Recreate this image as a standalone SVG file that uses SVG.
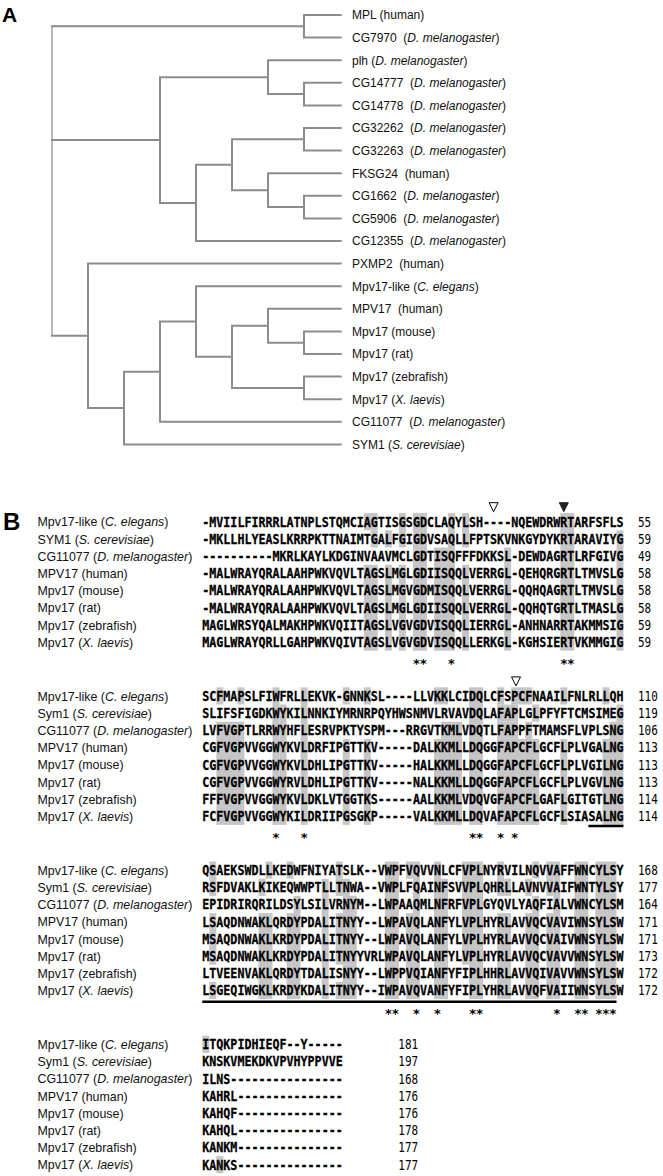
<svg xmlns="http://www.w3.org/2000/svg" width="663" height="1176" viewBox="0 0 663 1176">
<style>
.pl{font-family:"Liberation Sans",Arial,sans-serif;font-weight:bold;fill:#000}
.tl{font-family:"Liberation Sans",Arial,sans-serif;font-size:12px;fill:#111}
.lb{font-family:"Liberation Sans",Arial,sans-serif;font-size:12.4px;fill:#111}
.it{font-style:italic}
.sq{font-family:"DejaVu Sans Mono","Liberation Mono",monospace;font-size:11.66px;font-weight:bold;fill:#000;stroke:#000;stroke-width:0.25}
.nm{font-family:"DejaVu Sans Mono","Liberation Mono",monospace;font-size:11px;fill:#000}
.st{font-family:"DejaVu Sans Mono","Liberation Mono",monospace;font-size:13px;font-weight:bold;fill:#000}
.br{stroke:#8c8c8c;stroke-width:2;fill:none;stroke-linecap:square}
.sh rect{fill:#c6c6c6}
.ul{stroke:#000;stroke-width:2.5}
.to{fill:#fff;stroke:#000;stroke-width:1}
.tf{fill:#222;stroke:#222;stroke-width:1}
</style>
<defs>
<g id="labels">
<text x="37.5" y="526.4">Mpv17-like (<tspan class="it">C. elegans</tspan>)</text>
<text x="37.5" y="543.6">Sym1 (<tspan class="it">S. cerevisiae</tspan>)</text>
<text x="37.5" y="560.8">CG11077 (<tspan class="it">D. melanogaster</tspan>)</text>
<text x="37.5" y="578">MPV17 (human)</text>
<text x="37.5" y="595.2">Mpv17 (mouse)</text>
<text x="37.5" y="612.4">Mpv17 (rat)</text>
<text x="37.5" y="629.6">Mpv17 (zebrafish)</text>
<text x="37.5" y="646.8">Mpv17 (<tspan class="it">X. laevis</tspan>)</text>
</g>
</defs>
<rect width="663" height="1176" fill="#fff"/>
<g id="panel-A">
<text class="pl" x="2" y="21.5" font-size="21">A</text>
<g id="connectors">
<path d="M52 26.3 V335.8" stroke="#a8a8a8" stroke-width="1.6" fill="none"/>
<path class="br" d="M52 26.3 H304 M304 15 V37.6 M304 15 H340.7 M304 37.6 H340.7
M52 140 H160 M160 77.15 V202.9 M160 77.15 H268 M268 60.2 V94.1 M268 60.2 H340.7 M268 94.1 H304 M304 82.8 V105.4 M304 82.8 H340.7 M304 105.4 H340.7
M160 202.9 H196 M196 164.7 V241 M196 241 H340.7 M196 164.7 H232 M232 139.3 V190.15 M232 139.3 H304 M304 128 V150.6 M304 128 H340.7 M304 150.6 H340.7
M232 190.15 H268 M268 173.2 V207.1 M268 173.2 H340.7 M268 207.1 H304 M304 195.8 V218.4 M304 195.8 H340.7 M304 218.4 H340.7
M52 335.8 H88 M88 263.6 V408 M88 263.6 H340.7 M88 408 H124 M124 371.65 V444.4 M124 444.4 H340.7 M124 371.65 H160 M160 321.5 V421.8 M160 421.8 H340.7
M160 321.5 H196 M196 286.2 V356.8 M196 286.2 H340.7 M196 356.8 H232 M232 325.75 V387.9 M232 325.75 H268 M268 308.8 V342.7 M268 308.8 H340.7 M268 342.7 H304 M304 331.4 V354 M304 331.4 H340.7 M304 354 H340.7
M232 387.9 H304 M304 376.6 V399.2 M304 376.6 H340.7 M304 399.2 H340.7"/>
</g>
<g id="leaf-MPL"><text class="tl" x="352" y="19.3">MPL (human)</text></g>
<g id="leaf-CG7970"><text class="tl" x="352" y="41.9" xml:space="preserve">CG7970  (<tspan class="it">D. melanogaster</tspan>)</text></g>
<g id="leaf-plh"><text class="tl" x="352" y="64.5">plh (<tspan class="it">D. melanogaster</tspan>)</text></g>
<g id="leaf-CG14777"><text class="tl" x="352" y="87.1" xml:space="preserve">CG14777  (<tspan class="it">D. melanogaster</tspan>)</text></g>
<g id="leaf-CG14778"><text class="tl" x="352" y="109.7" xml:space="preserve">CG14778  (<tspan class="it">D. melanogaster</tspan>)</text></g>
<g id="leaf-CG32262"><text class="tl" x="352" y="132.3" xml:space="preserve">CG32262  (<tspan class="it">D. melanogaster</tspan>)</text></g>
<g id="leaf-CG32263"><text class="tl" x="352" y="154.9" xml:space="preserve">CG32263  (<tspan class="it">D. melanogaster</tspan>)</text></g>
<g id="leaf-FKSG24"><text class="tl" x="352" y="177.5" xml:space="preserve">FKSG24  (human)</text></g>
<g id="leaf-CG1662"><text class="tl" x="352" y="200.1" xml:space="preserve">CG1662  (<tspan class="it">D. melanogaster</tspan>)</text></g>
<g id="leaf-CG5906"><text class="tl" x="352" y="222.7" xml:space="preserve">CG5906  (<tspan class="it">D. melanogaster</tspan>)</text></g>
<g id="leaf-CG12355"><text class="tl" x="352" y="245.3" xml:space="preserve">CG12355  (<tspan class="it">D. melanogaster</tspan>)</text></g>
<g id="leaf-PXMP2"><text class="tl" x="352" y="267.9" xml:space="preserve">PXMP2  (human)</text></g>
<g id="leaf-Mpv17like"><text class="tl" x="352" y="290.5">Mpv17-like (<tspan class="it">C. elegans</tspan>)</text></g>
<g id="leaf-MPV17-human"><text class="tl" x="352" y="313.1" xml:space="preserve">MPV17  (human)</text></g>
<g id="leaf-Mpv17-mouse"><text class="tl" x="352" y="335.7">Mpv17 (mouse)</text></g>
<g id="leaf-Mpv17-rat"><text class="tl" x="352" y="358.3">Mpv17 (rat)</text></g>
<g id="leaf-Mpv17-zebrafish"><text class="tl" x="352" y="380.9">Mpv17 (zebrafish)</text></g>
<g id="leaf-Mpv17-xlaevis"><text class="tl" x="352" y="403.5">Mpv17 (<tspan class="it">X. laevis</tspan>)</text></g>
<g id="leaf-CG11077"><text class="tl" x="352" y="426.1" xml:space="preserve">CG11077  (<tspan class="it">D. melanogaster</tspan>)</text></g>
<g id="leaf-SYM1"><text class="tl" x="352" y="448.7">SYM1 (<tspan class="it">S. cerevisiae</tspan>)</text></g>
</g>
<g id="panel-B">
<text class="pl" x="3" y="530" font-size="24">B</text>
<g id="block1">
<g class="sh">
<rect x="363.76" y="513.1" width="14.04" height="17.2"/><rect x="370.78" y="530.3" width="7.02" height="17.2"/><rect x="363.76" y="564.7" width="14.04" height="86"/>
<rect x="384.82" y="530.3" width="7.02" height="17.2"/><rect x="384.82" y="564.7" width="7.02" height="86"/>
<rect x="398.86" y="513.1" width="7.02" height="34.4"/><rect x="398.86" y="564.7" width="7.02" height="86"/>
<rect x="412.9" y="513.1" width="14.04" height="137.6"/><rect x="433.96" y="547.5" width="14.04" height="103.2"/><rect x="448" y="513.1" width="7.02" height="137.6"/>
<rect x="462.04" y="513.1" width="7.02" height="34.4"/><rect x="462.04" y="564.7" width="7.02" height="86"/>
<rect x="504.16" y="547.5" width="7.02" height="103.2"/><rect x="560.32" y="513.1" width="14.04" height="137.6"/><rect x="616.48" y="530.3" width="7.02" height="120.4"/>
</g>
<g class="lb">
<text x="37.5" y="526.4">Mpv17-like (<tspan class="it">C. elegans</tspan>)</text>
<text x="37.5" y="543.6">SYM1 (<tspan class="it">S. cerevisiae</tspan>)</text>
<text x="37.5" y="560.8">CG11077 (<tspan class="it">D. melanogaster</tspan>)</text>
<text x="37.5" y="578">MPV17 (human)</text>
<text x="37.5" y="595.2">Mpv17 (mouse)</text>
<text x="37.5" y="612.4">Mpv17 (rat)</text>
<text x="37.5" y="629.6">Mpv17 (zebrafish)</text>
<text x="37.5" y="646.8">Mpv17 (<tspan class="it">X. laevis</tspan>)</text>
</g>
<g class="sq" transform="scale(1,1.2)">
<text x="202.3" y="438.917" textLength="421.2" lengthAdjust="spacingAndGlyphs">-MVIILFIRRRLATNPLSTQMCIAGTISGSGDCLAQYLSH----NQEWDRWRTARFSFLS</text>
<text x="202.3" y="453.25" textLength="421.2" lengthAdjust="spacingAndGlyphs">-MKLLHLYEASLKRRPKTTNAIMTGALFGIGDVSAQLLFPTSKVNKGYDYKRTARAVIYG</text>
<text x="202.3" y="467.583" textLength="421.2" lengthAdjust="spacingAndGlyphs">----------MKRLKAYLKDGINVAAVMCLGDTISQFFFDKKSL-DEWDAGRTLRFGIVG</text>
<text x="202.3" y="481.917" textLength="421.2" lengthAdjust="spacingAndGlyphs">-MALWRAYQRALAAHPWKVQVLTAGSLMGLGDIISQQLVERRGL-QEHQRGRTLTMVSLG</text>
<text x="202.3" y="496.25" textLength="421.2" lengthAdjust="spacingAndGlyphs">-MALWRAYQRALAAHPWKVQVLTAGSLMGVGDMISQQLVERRGL-QQHQAGRTLTMVSLG</text>
<text x="202.3" y="510.583" textLength="421.2" lengthAdjust="spacingAndGlyphs">-MALWRAYQRALAAHPWKVQVLTAGSLMGLGDIISQQLVERRGL-QQHQTGRTLTMASLG</text>
<text x="202.3" y="524.917" textLength="421.2" lengthAdjust="spacingAndGlyphs">MAGLWRSYQALMAKHPWKVQIITAGSLVGVGDVISQQLIERRGL-ANHNARRTAKMMSIG</text>
<text x="202.3" y="539.25" textLength="421.2" lengthAdjust="spacingAndGlyphs">MAGLWRAYQRLLGAHPWKVQIVTAGSLVGVGDVISQQLLERKGL-KGHSIERTVKMMGIG</text>
</g>
<g class="nm" transform="scale(1,1.2)">
<text x="638" y="438.917">55</text><text x="638" y="453.25">59</text><text x="638" y="467.583">49</text><text x="638" y="481.917">58</text>
<text x="638" y="496.25">58</text><text x="638" y="510.583">58</text><text x="638" y="524.917">59</text><text x="638" y="539.25">59</text>
</g>
<text class="st" x="416.41 423.43 451.51 563.83 570.85" y="667.9" text-anchor="middle">*****</text>
<path class="to" d="M489.1 502.7 H498.1 L493.6 511.7 Z"/>
<path class="tf" d="M559.3 502.7 H568.3 L563.8 511.7 Z"/>
</g>
<g id="block2" transform="translate(0,174.2)">
<g class="sh">
<rect x="216.34" y="513.1" width="7.02" height="17.2"/><rect x="237.4" y="513.1" width="7.02" height="17.2"/><rect x="216.34" y="547.5" width="28.08" height="103.2"/>
<rect x="272.5" y="513.1" width="7.02" height="137.6"/><rect x="279.52" y="530.3" width="7.02" height="120.4"/><rect x="300.58" y="513.1" width="7.02" height="137.6"/>
<rect x="342.7" y="513.1" width="7.02" height="17.2"/><rect x="342.7" y="564.7" width="7.02" height="86"/>
<rect x="363.76" y="513.1" width="7.02" height="17.2"/><rect x="363.76" y="564.7" width="7.02" height="86"/>
<rect x="433.96" y="513.1" width="14.04" height="17.2"/><rect x="440.98" y="547.5" width="21.06" height="17.2"/><rect x="433.96" y="564.7" width="28.08" height="86"/>
<rect x="469.06" y="513.1" width="14.04" height="137.6"/>
<rect x="497.14" y="513.1" width="7.02" height="17.2"/><rect x="511.18" y="513.1" width="21.06" height="17.2"/>
<rect x="497.14" y="530.3" width="21.06" height="17.2"/><rect x="532.24" y="530.3" width="7.02" height="17.2"/>
<rect x="497.14" y="547.5" width="21.06" height="17.2"/><rect x="525.22" y="547.5" width="7.02" height="17.2"/>
<rect x="497.14" y="564.7" width="42.12" height="86"/>
<rect x="560.32" y="513.1" width="7.02" height="17.2"/><rect x="560.32" y="564.7" width="7.02" height="86"/>
<rect x="602.44" y="513.1" width="7.02" height="17.2"/><rect x="616.48" y="530.3" width="7.02" height="17.2"/><rect x="609.46" y="547.5" width="14.04" height="17.2"/><rect x="602.44" y="564.7" width="21.06" height="86"/>
</g>
<use class="lb" href="#labels"/>
<g class="sq" transform="scale(1,1.2)">
<text x="202.3" y="438.917" textLength="421.2" lengthAdjust="spacingAndGlyphs">SCFMAPSLFIWFRLLEKVK-GNNKSL----LLVKKLCIDQLCFSPCFNAAILFNLRLLQH</text>
<text x="202.3" y="453.25" textLength="421.2" lengthAdjust="spacingAndGlyphs">SLIFSFIGDKWYKILNNKIYMRNRPQYHWSNMVLRVAVDQLAFAPLGLPFYFTCMSIMEG</text>
<text x="202.3" y="467.583" textLength="421.2" lengthAdjust="spacingAndGlyphs">LVFVGPTLRRWYHFLESRVPKTYSPM---RRGVTKMLVDQTLFAPPFTMAMSFLVPLSNG</text>
<text x="202.3" y="481.917" textLength="421.2" lengthAdjust="spacingAndGlyphs">CGFVGPVVGGWYKVLDRFIPGTTKV-----DALKKMLLDQGGFAPCFLGCFLPLVGALNG</text>
<text x="202.3" y="496.25" textLength="421.2" lengthAdjust="spacingAndGlyphs">CGFVGPVVGGWYKVLDHLIPGTTKV-----HALKKMLLDQGGFAPCFLGCFLPLVGILNG</text>
<text x="202.3" y="510.583" textLength="421.2" lengthAdjust="spacingAndGlyphs">CGFVGPVVGGWYRVLDHLIPGTTKV-----NALKKMLLDQGGFAPCFLGCFLPLVGVLNG</text>
<text x="202.3" y="524.917" textLength="421.2" lengthAdjust="spacingAndGlyphs">FFFVGPVVGGWYKVLDKLVTGGTKS-----AALKKMLVDQVGFAPCFLGAFLGITGTLNG</text>
<text x="202.3" y="539.25" textLength="421.2" lengthAdjust="spacingAndGlyphs">FCFVGPVVGGWYKILDRIIPGSGKP-----VALKKMLLDQVAFAPCFLGCFLSIASALNG</text>
</g>
<g class="nm" transform="scale(1,1.2)">
<text x="638" y="438.917">110</text><text x="638" y="453.25">119</text><text x="638" y="467.583">106</text><text x="638" y="481.917">113</text>
<text x="638" y="496.25">113</text><text x="638" y="510.583">113</text><text x="638" y="524.917">114</text><text x="638" y="539.25">114</text>
</g>
<line class="ul" x1="588.4" y1="651.8" x2="623.5" y2="651.8"/>
<text class="st" x="276.01 304.09 472.57 479.59 500.65 514.69" y="667.9" text-anchor="middle">******</text>
<path class="to" d="M511.5 502.7 H520.5 L516 511.7 Z"/>
</g>
<g id="block3" transform="translate(0,348.4)">
<g class="sh">
<rect x="209.32" y="513.1" width="7.02" height="34.4"/><rect x="209.32" y="564.7" width="7.02" height="51.6"/><rect x="209.32" y="633.5" width="7.02" height="17.2"/>
<rect x="265.48" y="513.1" width="7.02" height="17.2"/><rect x="258.46" y="530.3" width="7.02" height="17.2"/><rect x="258.46" y="564.7" width="14.04" height="86"/>
<rect x="286.54" y="513.1" width="7.02" height="17.2"/><rect x="293.56" y="547.5" width="7.02" height="17.2"/><rect x="286.54" y="564.7" width="14.04" height="86"/>
<rect x="321.64" y="530.3" width="7.02" height="120.4"/>
<rect x="335.68" y="513.1" width="7.02" height="17.2"/><rect x="335.68" y="530.3" width="14.04" height="17.2"/><rect x="342.7" y="547.5" width="14.04" height="17.2"/>
<rect x="335.68" y="564.7" width="21.06" height="51.6"/><rect x="342.7" y="616.3" width="14.04" height="17.2"/><rect x="335.68" y="633.5" width="21.06" height="17.2"/>
<rect x="384.82" y="513.1" width="14.04" height="137.6"/>
<rect x="405.88" y="513.1" width="7.02" height="17.2"/><rect x="405.88" y="564.7" width="7.02" height="86"/><rect x="412.9" y="513.1" width="7.02" height="137.6"/>
<rect x="433.96" y="513.1" width="7.02" height="137.6"/><rect x="440.98" y="530.3" width="7.02" height="120.4"/>
<rect x="462.04" y="513.1" width="7.02" height="103.2"/><rect x="469.06" y="513.1" width="14.04" height="137.6"/>
<rect x="497.14" y="513.1" width="7.02" height="34.4"/><rect x="497.14" y="564.7" width="14.04" height="86"/><rect x="504.16" y="530.3" width="7.02" height="17.2"/>
<rect x="525.22" y="530.3" width="7.02" height="17.2"/><rect x="525.22" y="564.7" width="14.04" height="86"/><rect x="532.24" y="513.1" width="7.02" height="17.2"/><rect x="532.24" y="547.5" width="7.02" height="17.2"/>
<rect x="546.28" y="513.1" width="7.02" height="34.4"/><rect x="546.28" y="564.7" width="7.02" height="86"/><rect x="553.3" y="513.1" width="7.02" height="137.6"/>
<rect x="574.36" y="513.1" width="14.04" height="137.6"/><rect x="595.42" y="513.1" width="21.06" height="137.6"/>
</g>
<use class="lb" href="#labels"/>
<g class="sq" transform="scale(1,1.2)">
<text x="202.3" y="438.917" textLength="421.2" lengthAdjust="spacingAndGlyphs">QSAEKSWDLLKEDWFNIYATSLK--VWPFVQVVNLCFVPLNYRVILNQVVAFFWNCYLSY</text>
<text x="202.3" y="453.25" textLength="421.2" lengthAdjust="spacingAndGlyphs">RSFDVAKLKIKEQWWPTLLTNWA--VWPLFQAINFSVVPLQHRLLAVNVVAIFWNTYLSY</text>
<text x="202.3" y="467.583" textLength="421.2" lengthAdjust="spacingAndGlyphs">EPIDRIRQRILDSYLSILVRNYM--LWPAAQMLNFRFVPLGYQVLYAQFIALVWNCYLSM</text>
<text x="202.3" y="481.917" textLength="421.2" lengthAdjust="spacingAndGlyphs">LSAQDNWAKLQRDYPDALITNYY--LWPAVQLANFYLVPLHYRLAVVQCVAVIWNSYLSW</text>
<text x="202.3" y="496.25" textLength="421.2" lengthAdjust="spacingAndGlyphs">MSAQDNWAKLKRDYPDALITNYY--LWPAVQLANFYLVPLHYRLAVVQCVAIVWNSYLSW</text>
<text x="202.3" y="510.583" textLength="421.2" lengthAdjust="spacingAndGlyphs">MSAQDNWAKLKRDYPDALITNYYVRLWPAVQLANFYLVPLHYRLAVVQCVAVVWNSYLSW</text>
<text x="202.3" y="524.917" textLength="421.2" lengthAdjust="spacingAndGlyphs">LTVEENVAKLQRDYTDALISNYY--LWPPVQIANFYFIPLHHRLAVVQIVAVVWNSYLSW</text>
<text x="202.3" y="539.25" textLength="421.2" lengthAdjust="spacingAndGlyphs">LSGEQIWGKLKRDYKDALITNYY--IWPAVQVANFYFIPLYHRLAVVQFVAIIWNSYLSW</text>
</g>
<g class="nm" transform="scale(1,1.2)">
<text x="638" y="438.917">168</text><text x="638" y="453.25">177</text><text x="638" y="467.583">164</text><text x="638" y="481.917">171</text>
<text x="638" y="496.25">171</text><text x="638" y="510.583">173</text><text x="638" y="524.917">172</text><text x="638" y="539.25">172</text>
</g>
<line class="ul" x1="202.3" y1="653.3" x2="616.5" y2="653.3"/>
<text class="st" x="388.33 395.35 416.41 437.47 472.57 479.59 556.81 577.87 584.89 598.93 605.95 612.97" y="669.5" text-anchor="middle">************</text>
</g>
<g id="block4" transform="translate(0,522.6)">
<g class="sh">
<rect x="202.3" y="513.1" width="7.02" height="17.2"/><rect x="216.34" y="633.5" width="7.02" height="17.2"/>
</g>
<use class="lb" href="#labels"/>
<g class="sq" transform="scale(1,1.2)">
<text x="202.3" y="438.917" textLength="140.4" lengthAdjust="spacingAndGlyphs">ITQKPIDHIEQF--Y-----</text>
<text x="202.3" y="453.25" textLength="140.4" lengthAdjust="spacingAndGlyphs">KNSKVMEKDKVPVHYPPVVE</text>
<text x="202.3" y="467.583" textLength="140.4" lengthAdjust="spacingAndGlyphs">ILNS----------------</text>
<text x="202.3" y="481.917" textLength="140.4" lengthAdjust="spacingAndGlyphs">KAHRL---------------</text>
<text x="202.3" y="496.25" textLength="140.4" lengthAdjust="spacingAndGlyphs">KAHQF---------------</text>
<text x="202.3" y="510.583" textLength="140.4" lengthAdjust="spacingAndGlyphs">KAHQL---------------</text>
<text x="202.3" y="524.917" textLength="140.4" lengthAdjust="spacingAndGlyphs">KANKM---------------</text>
<text x="202.3" y="539.25" textLength="140.4" lengthAdjust="spacingAndGlyphs">KANKS---------------</text>
</g>
<g class="nm" transform="scale(1,1.2)">
<text x="398.3" y="438.917">181</text><text x="398.3" y="453.25">197</text><text x="398.3" y="467.583">168</text><text x="398.3" y="481.917">176</text>
<text x="398.3" y="496.25">176</text><text x="398.3" y="510.583">178</text><text x="398.3" y="524.917">177</text><text x="398.3" y="539.25">177</text>
</g>
</g>
</g>
</svg>
